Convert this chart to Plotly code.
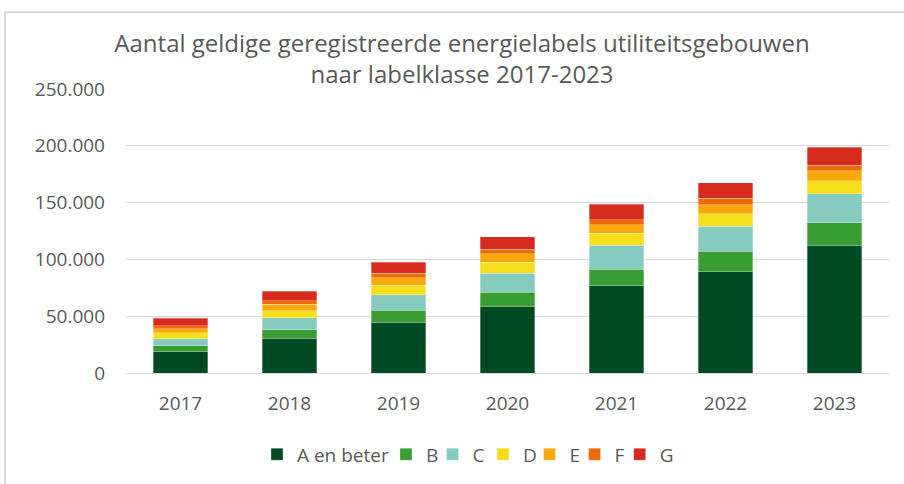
import plotly.graph_objects as go

years = ["2017", "2018", "2019", "2020", "2021", "2022", "2023"]
labels = ["A en beter", "B", "C", "D", "E", "F", "G"]
a_en_beter = [18650, 30520, 44630, 58200, 76730, 89080, 112400]
b_vals = [5250, 7670, 10580, 12880, 14730, 18250, 19890]
c_vals = [6130, 10320, 13850, 16760, 21170, 22050, 25400]
d_vals = [5250, 6440, 8200, 9700, 10580, 10850, 11650]
e_vals = [3500, 5560, 6530, 7410, 7320, 7940, 8500]
f_vals = [3000, 3260, 4060, 4060, 4410, 5880, 5260]
g_vals = [6400, 8200, 9700, 10940, 13580, 13500, 15770]
series = [a_en_beter, b_vals, c_vals, d_vals, e_vals, f_vals, g_vals]
colors = ["#004A23", "#389E34", "#86CAC0", "#F5DF1A", "#F9A90B", "#EE6A09", "#D72B1F"]
legend_widths = [84, 1.5, 5.5, 1.5, 0.1, 0.1, None]
y_ticks = [0, 50000, 100000, 150000, 200000, 250000]
title_text = ("Aantal geldige geregistreerde energielabels utiliteitsgebouwen<br>"
              "naar labelklasse 2017-2023")

FONT = "Open Sans"
GREY = "#595959"
fig = go.Figure()
for name, vals, col, lw in zip(labels, series, colors, legend_widths):
    fig.add_trace(go.Bar(x=years, y=vals, name=name, legendwidth=lw,
                         marker=dict(color=col, line=dict(width=0.6, color="rgba(255,255,255,0.5)"))))

fig.update_layout(
    barmode="stack",
    bargap=0.5,
    width=904, height=484,
    margin=dict(l=126, r=15, t=89, b=109.5),
    paper_bgcolor="white", plot_bgcolor="white",
    separators=",.",
    font=dict(family=FONT, color=GREY, size=19),
    title=dict(text=title_text, x=462 / 904, xanchor="center", xref="container",
               y=1 - 52 / 484, yanchor="middle", yref="container",
               font=dict(family=FONT, size=24, color=GREY)),
    xaxis=dict(showgrid=False, showline=False, ticks="", ticklabelstandoff=17,
               tickfont=dict(size=19, color=GREY)),
    yaxis=dict(range=[0, 250000], tickvals=y_ticks, tickformat=",.0f",
               showgrid=True, gridcolor="#D9D9D9", gridwidth=1.3,
               zeroline=True, zerolinecolor="#D9D9D9", zerolinewidth=1.3,
               ticks="", ticklabelstandoff=20, tickfont=dict(size=19, color=GREY)),
    legend=dict(orientation="h", x=(257 - 126) / 763, xanchor="left", y=-0.282, yanchor="middle",
                font=dict(size=19, color=GREY), itemwidth=30, traceorder="normal"),
    shapes=[dict(type="rect", xref="paper", yref="paper", x0=-0.1586, x1=1.05, y0=-0.5, y1=1.27,
                 line=dict(color="#D9D9D9", width=2), fillcolor="rgba(0,0,0,0)", layer="below")],
)
fig.write_html("out.html", config={"displayModeBar": False},
               post_script="document.body.style.margin='0px';")
